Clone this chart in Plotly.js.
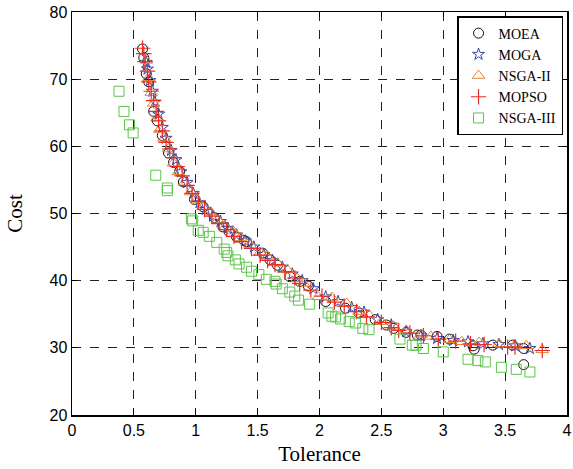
<!DOCTYPE html>
<html>
<head>
<meta charset="utf-8">
<script src="https://cdn.plot.ly/plotly-3.0.1.min.js"></script>
<style>html,body{margin:0;padding:0;background:#fff;}#chart{width:573px;height:469px;}</style>
</head>
<body>
<div id="chart"></div>
<script>
const seriesNames = ["MOEA", "MOGA", "NSGA-II", "MOPSO", "NSGA-III"];

const moeaX = [0.57,0.58,0.60,0.62,0.66,0.69,0.73,0.78,0.82,0.87,0.90,0.99,1.06,1.15,1.22,1.27,1.33,1.39,1.41,1.54,1.60,1.66,1.76,1.84,1.91,2.05,2.21,2.32,2.45,2.54,2.60,2.70,2.79,2.82,2.95,3.05,3.24,3.25,3.40,3.56,3.65,3.65];
const moeaY = [74.5,73.2,70.8,69.6,65.2,63.8,61.6,59.0,57.6,56.3,54.7,52.1,51.0,49.4,48.0,47.3,46.5,46.0,45.8,44.1,43.1,42.3,40.6,39.9,39.2,36.9,35.9,35.2,34.2,33.4,32.9,32.3,31.9,31.9,31.7,31.3,30.3,29.8,30.4,30.4,29.9,27.5];

const mogaX = [0.60,0.61,0.63,0.65,0.67,0.70,0.73,0.76,0.80,0.84,0.88,0.93,0.98,1.03,1.08,1.14,1.20,1.26,1.33,1.40,1.47,1.55,1.62,1.70,1.78,1.86,1.95,2.05,2.15,2.26,2.36,2.47,2.58,2.70,2.82,2.95,3.08,3.20,3.32,3.45,3.58,3.70];
const mogaY = [72.5,71.5,69.8,68.2,66.6,64.8,62.8,61.2,59.4,58.0,56.2,54.6,53.0,51.6,50.6,49.6,48.8,47.8,46.8,45.9,45.0,43.9,43.0,42.0,41.0,40.0,38.8,37.6,36.9,36.0,35.3,34.2,33.4,32.4,31.8,31.4,31.1,30.9,30.6,30.5,30.3,29.9];

const nsga2X = [0.60,0.62,0.64,0.66,0.69,0.71,0.745,0.78,0.82,0.86,0.91,0.96,1.01,1.06,1.12,1.18,1.24,1.30,1.36,1.44,1.52,1.58,1.66,1.74,1.82,1.87,1.99,2.10,2.22,2.32,2.40,2.50,2.60,2.70,2.82,2.90,3.05,3.15,3.29,3.45,3.58,3.67,3.80];
const nsga2Y = [72.8,70.2,68.0,66.4,64.3,62.5,61.2,59.6,57.5,56.2,54.6,53.2,52.0,51.0,50.2,49.0,48.0,47.4,46.4,45.3,44.2,43.6,42.6,41.6,40.3,39.6,37.6,37.5,36.6,35.4,34.9,33.9,33.2,32.6,32.0,31.7,31.2,30.9,30.8,30.6,30.4,30.3,29.7];

const mopsoX = [0.57,0.58,0.59,0.61,0.62,0.64,0.66,0.68,0.70,0.73,0.76,0.79,0.82,0.85,0.89,0.93,0.97,1.02,1.07,1.13,1.19,1.25,1.31,1.37,1.45,1.52,1.58,1.64,1.72,1.80,1.84,1.93,2.02,2.12,2.20,2.30,2.38,2.50,2.58,2.64,2.73,2.84,2.96,3.10,3.22,3.33,3.52,3.58,3.80];
const mopsoY = [74.6,73.8,72.6,71.2,69.6,68.2,66.8,65.2,63.8,62.3,60.6,59.6,58.3,57.0,55.6,54.2,53.0,51.8,50.6,49.6,48.5,47.6,46.6,45.8,44.8,43.8,43.0,42.4,41.3,40.4,39.6,38.6,37.7,36.8,36.2,35.4,34.6,33.8,33.0,32.6,32.2,31.8,31.3,31.0,30.6,30.5,30.1,30.1,29.6];

const nsga3X = [0.38,0.42,0.465,0.494,0.677,0.77,0.77,0.965,0.975,1.02,1.06,1.11,1.17,1.23,1.25,1.26,1.32,1.35,1.41,1.45,1.51,1.57,1.64,1.65,1.70,1.76,1.80,1.83,1.92,2.07,2.10,2.13,2.17,2.24,2.29,2.35,2.40,2.65,2.75,2.78,2.84,3.00,3.20,3.28,3.34,3.47,3.59,3.70];
const nsga3Y = [68.2,65.2,63.2,62.0,55.7,53.8,53.4,49.2,48.9,47.5,47.2,46.6,45.7,44.7,44.2,43.7,43.1,42.5,42.0,41.4,40.9,40.2,39.9,39.5,38.8,38.3,37.7,37.1,36.5,35.2,34.7,34.6,34.3,33.9,33.7,32.9,32.7,31.3,30.4,30.4,29.9,29.4,28.3,28.1,27.9,27.1,26.8,26.4];

const xTicks = [0,0.5,1,1.5,2,2.5,3,3.5,4];
const xTickText = ["0","0.5","1","1.5","2","2.5","3","3.5","4"];
const yTicks = [20,30,40,50,60,70,80];

const traces = [
  {x: moeaX, y: moeaY, name: seriesNames[0], type: "scatter", mode: "markers",
   marker: {symbol: "circle-open", size: 10, color: "#111111", line: {width: 1, color: "#111111"}}},
  {x: mogaX, y: mogaY, name: seriesNames[1], type: "scatter", mode: "markers",
   marker: {symbol: "star-open", size: 9, color: "#3344b0", line: {width: 1, color: "#3344b0"}}},
  {x: nsga2X, y: nsga2Y, name: seriesNames[2], type: "scatter", mode: "markers",
   marker: {symbol: "triangle-up-open", size: 11, color: "#e8862a", line: {width: 1, color: "#e8862a"}}},
  {x: mopsoX, y: mopsoY, name: seriesNames[3], type: "scatter", mode: "markers",
   marker: {symbol: "cross-thin-open", size: 11, color: "#ee2a22", line: {width: 1.2, color: "#ee2a22"}}},
  {x: nsga3X, y: nsga3Y, name: seriesNames[4], type: "scatter", mode: "markers",
   marker: {symbol: "square-open", size: 10, color: "#5cc44a", line: {width: 1, color: "#5cc44a"}}}
];

const axisCommon = {
  showline: true, linecolor: "#000", linewidth: 1.5, mirror: "ticks",
  ticks: "inside", ticklen: 5, tickcolor: "#000", tickwidth: 1,
  showgrid: true, gridcolor: "#222", gridwidth: 1, griddash: "dash",
  zeroline: false,
  tickfont: {family: "Liberation Sans, Arial, sans-serif", size: 16, color: "#000"}
};

const layout = {
  width: 573, height: 469,
  margin: {l: 72, r: 6, t: 12, b: 54},
  paper_bgcolor: "#fff", plot_bgcolor: "#fff",
  showlegend: true,
  xaxis: Object.assign({}, axisCommon, {
    range: [0, 4], tickvals: xTicks, ticktext: xTickText,
    title: {text: "Tolerance", font: {family: "Liberation Serif, Times New Roman, serif", size: 21, color: "#000"}, standoff: 8}
  }),
  yaxis: Object.assign({}, axisCommon, {
    range: [20, 80], tickvals: yTicks,
    title: {text: "Cost", font: {family: "Liberation Serif, Times New Roman, serif", size: 21, color: "#000"}, standoff: 21}
  }),
  legend: {
    x: 0.992, y: 0.99, xanchor: "right", yanchor: "top",
    bgcolor: "#fff", bordercolor: "#000", borderwidth: 1.5,
    font: {family: "Liberation Serif, Times New Roman, serif", size: 14, color: "#000"},
    tracegroupgap: 0
  }
};

Plotly.newPlot("chart", traces, layout, {displayModeBar: false, staticPlot: true});
</script>
</body>
</html>
